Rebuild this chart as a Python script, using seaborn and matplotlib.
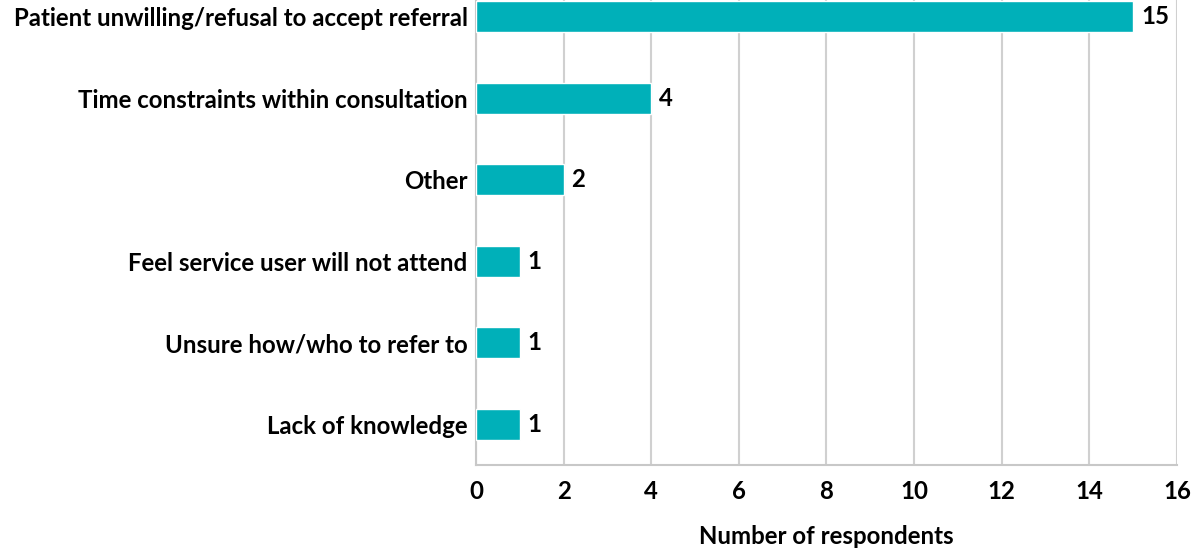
import pandas as pd
import numpy as np
import matplotlib
matplotlib.use("Agg")
import matplotlib.pyplot as plt
import seaborn as sns

reasons = ["Patient unwilling/refusal to accept referral",
           "Time constraints within consultation",
           "Other",
           "Feel service user will not attend",
           "Unsure how/who to refer to",
           "Lack of knowledge"]
counts = [15, 4, 2, 1, 1, 1]
xticks = [0, 2, 4, 6, 8, 10, 12, 14, 16]

df = pd.DataFrame({"reason": reasons, "count": counts})

sns.set_theme(style="white")
plt.rcParams['font.family'] = ['Lato', 'DejaVu Sans']
plt.rcParams['font.weight'] = 'bold'
plt.rcParams['text.color'] = 'black'
plt.rcParams['axes.labelcolor'] = 'black'
plt.rcParams['xtick.color'] = 'black'
plt.rcParams['ytick.color'] = 'black'

FS = 17.3

fig = plt.figure(figsize=(11.92, 5.48), dpi=100)
ax = fig.add_axes([0.3993, 0.1515, 0.5881, 0.8923])

sns.barplot(data=df, x="count", y="reason", color="#00B0B9", saturation=1,
            width=0.38, ax=ax, zorder=3)

# value labels at bar ends
for i, v in enumerate(counts):
    ax.text(v + 0.18, i, str(v), va="center", ha="left", fontsize=FS,
            fontweight="bold", color="black")

ax.set_xlim(0, 16)
ax.set_xticks(xticks)
ax.set_xticklabels([str(t) for t in xticks], fontsize=FS, fontweight="bold")
ax.tick_params(axis="x", length=0, pad=11)
ax.tick_params(axis="y", length=0, pad=6, labelsize=FS)
for lab in ax.get_yticklabels():
    lab.set_fontweight("bold")

ax.grid(axis="x", color="#d0d0d0", linewidth=1.5, zorder=0)
ax.set_axisbelow(True)
for s in ["top", "right"]:
    ax.spines[s].set_visible(False)
for s in ["left", "bottom"]:
    ax.spines[s].set_color("#c8c8c8")
    ax.spines[s].set_linewidth(1.5)

ax.set_ylabel("")
ax.set_xlabel("Number of respondents", fontsize=FS, fontweight="bold", labelpad=16)

fig.savefig("out.png", dpi=100)
